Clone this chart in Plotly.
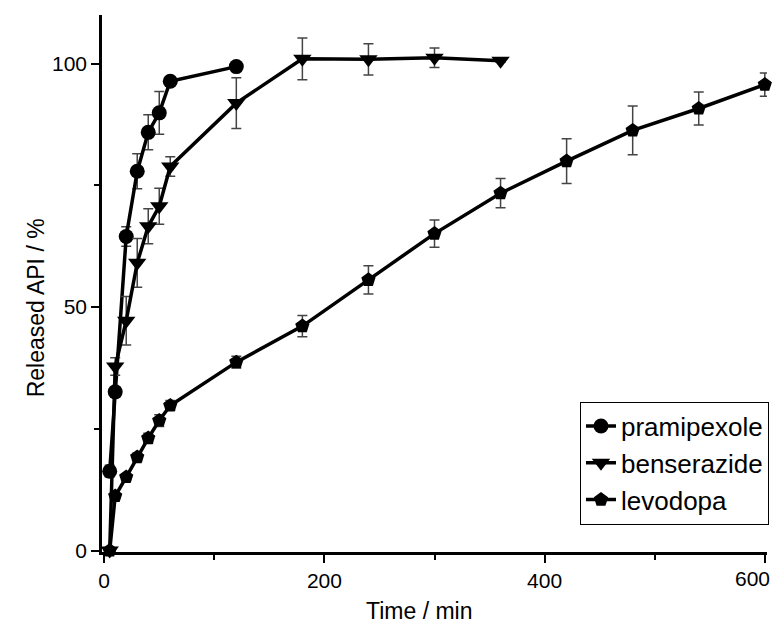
import plotly.graph_objects as go

# Data
t_pram = [5, 10, 20, 30, 40, 50, 60, 120]
y_pram = [16.3, 32.6, 64.5, 77.9, 85.9, 89.9, 96.4, 99.4]
e_pram = [1.2, 1.0, 2.0, 3.6, 3.6, 4.4, 0.6, 0.8]

t_bens = [5, 10, 20, 30, 40, 50, 60, 120, 180, 240, 300, 360]
y_bens = [0.0, 37.8, 47.2, 59.1, 66.6, 70.7, 78.9, 91.9, 101.0, 100.9, 101.2, 100.6]
e_bens = [0.3, 1.8, 5.0, 5.0, 3.6, 3.7, 2.0, 5.2, 4.3, 3.2, 2.0, 0.3]

t_levo = [5, 10, 20, 30, 40, 50, 60, 120, 180, 240, 300, 360, 420, 480, 540, 600]
y_levo = [0.0, 11.2, 15.1, 19.2, 23.1, 26.7, 29.8, 38.7, 46.1, 55.6, 65.1, 73.4, 80.0, 86.3, 90.8, 95.7]
e_levo = [0.3, 0.6, 0.6, 0.8, 1.0, 1.2, 1.0, 1.2, 2.2, 2.9, 2.8, 3.0, 4.6, 5.0, 3.4, 2.4]

x_ticks = [0, 200, 400, 600]
x_ticklabels = ["0", "200", "400", "600"]
y_ticks = [0, 50, 100]
x_title = "Time / min"
y_title = "Released API / %"

series = [
    ("pramipexole", t_pram, y_pram, e_pram, "circle", 15),
    ("benserazide", t_bens, y_bens, e_bens, "triangle-down", 16),
    ("levodopa", t_levo, y_levo, e_levo, "pentagon", 15),
]

fig = go.Figure()
for name, t, y, e, sym, sz in series:
    fig.add_trace(go.Scatter(
        x=t, y=y, name=name, mode="lines+markers",
        line=dict(color="black", width=3.5),
        marker=dict(symbol=sym, size=sz, color="black"),
        error_y=dict(type="data", array=e, visible=True, color="#444444",
                     thickness=1.5, width=5),
        cliponaxis=False,
    ))

font = "Liberation Sans, Arial, sans-serif"
# last tick label drawn as an annotation so it is not clipped at the page edge
shown_labels = x_ticklabels[:-1] + [""]

fig.update_layout(
    width=766, height=617,
    margin=dict(l=94, r=7, t=7, b=73, autoexpand=False),
    plot_bgcolor="white", paper_bgcolor="white",
    font=dict(family=font, color="black", size=21),
    showlegend=True,
    legend=dict(
        x=1.003, y=0.051, xanchor="right", yanchor="bottom",
        bordercolor="black", borderwidth=1, bgcolor="white",
        font=dict(size=26, family=font), tracegroupgap=0,
    ),
    xaxis=dict(
        range=[-2, 602], showgrid=False, zeroline=False, automargin=False,
        showline=True, linecolor="black", linewidth=2.5,
        ticks="outside", ticklen=8, tickwidth=2, tickcolor="black",
        tickvals=x_ticks, ticktext=shown_labels,
        minor=dict(tickvals=[100, 300, 500], ticks="outside", ticklen=5,
                   tickwidth=2, tickcolor="black"),
        tickfont=dict(size=21),
    ),
    yaxis=dict(
        range=[-0.3, 110], showgrid=False, zeroline=False, automargin=False,
        showline=True, linecolor="black", linewidth=2.5,
        ticks="outside", ticklen=8, tickwidth=2, tickcolor="black",
        tickvals=y_ticks,
        minor=dict(tickvals=[25, 75], ticks="outside", ticklen=5,
                   tickwidth=2, tickcolor="black"),
        tickfont=dict(size=21),
    ),
    annotations=[
        dict(text=x_ticklabels[-1], xref="paper", yref="paper", x=1.008, y=-0.025,
             xanchor="right", yanchor="top", showarrow=False,
             font=dict(size=21, family=font)),
        dict(text=x_title, xref="paper", yref="paper", x=0.477, y=-0.109,
             xanchor="center", yanchor="middle", showarrow=False,
             font=dict(size=23, family=font)),
        dict(text=y_title, xref="paper", yref="paper", x=-0.099, y=0.454,
             xanchor="center", yanchor="middle", showarrow=False, textangle=-90,
             font=dict(size=23, family=font)),
    ],
)

fig.write_html("out.html")
